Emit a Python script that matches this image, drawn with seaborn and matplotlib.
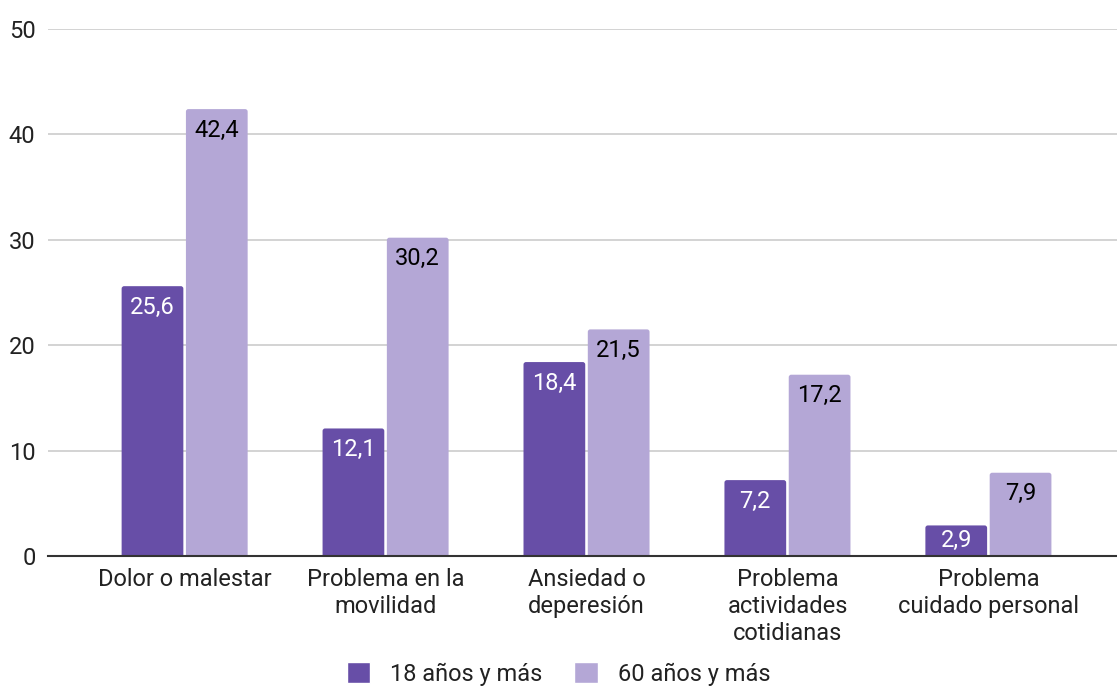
import matplotlib
matplotlib.use("Agg")
import matplotlib.pyplot as plt
from matplotlib.patches import FancyBboxPatch
import seaborn as sns
import pandas as pd

categories = [
    "Dolor o malestar",
    "Problema en la\nmovilidad",
    "Ansiedad o\ndeperesión",
    "Problema\nactividades\ncotidianas",
    "Problema\ncuidado personal",
]
series_names = ["18 años y más", "60 años y más"]
values_18 = [25.6, 12.1, 18.4, 7.2, 2.9]
values_60 = [42.4, 30.2, 21.5, 17.2, 7.9]
y_ticks = [0, 10, 20, 30, 40, 50]

colors = ["#674ea7", "#b4a7d6"]
label_colors = ["white", "black"]
FS = 17

df = pd.DataFrame({
    "categoria": categories * 2,
    "grupo": [series_names[0]] * len(categories) + [series_names[1]] * len(categories),
    "valor": values_18 + values_60,
})

sns.set_theme(style="white")
plt.rcParams["font.family"] = ["Roboto", "DejaVu Sans"]

W, H = 1117, 686
fig = plt.figure(figsize=(W / 100, H / 100), dpi=100)
ax = fig.add_axes([48 / W, 1 - 556 / H, 1 - 48 / W, (556 - 29) / H])

sns.barplot(
    data=df, x="categoria", y="valor", hue="grupo",
    palette=colors, width=0.64, gap=0.04, saturation=1,
    ax=ax, legend=True,
)

ax.set_ylim(0, 50)
ax.set_xlim(-0.68, 4.64)
ax.set_yticks(y_ticks)
ax.set_yticklabels([str(t) for t in y_ticks], fontsize=FS, color="#222222")
ax.tick_params(axis="y", length=0, pad=9)
ax.tick_params(axis="x", length=0, pad=9, labelsize=FS, labelcolor="#222222")
ax.set_xlabel("")
ax.set_ylabel("")
ax.yaxis.grid(True, color="#cccccc", linewidth=1.2)
ax.set_axisbelow(True)
for side in ["top", "right", "left"]:
    ax.spines[side].set_visible(False)
ax.spines["bottom"].set_color("#333333")
ax.spines["bottom"].set_linewidth(1.5)

# Pixel scales of the axes, used for rounded bar tops and label offsets.
ax_w_px = W - 48
ax_h_px = 556 - 29
px_x = ax_w_px / (ax.get_xlim()[1] - ax.get_xlim()[0])
px_y = ax_h_px / (ax.get_ylim()[1] - ax.get_ylim()[0])
radius = 2.5 / px_x
aspect = px_x / px_y

# Swap the plain rectangles for ones with slightly rounded top corners;
# the bottom extends below the baseline, where it is clipped away.
for container in ax.containers:
    for rect in container.patches:
        rect.set_visible(False)
        below = 4 / px_y
        ax.add_patch(FancyBboxPatch(
            (rect.get_x(), rect.get_y() - below), rect.get_width(),
            rect.get_height() + below,
            boxstyle=f"round,pad=0,rounding_size={radius}",
            mutation_aspect=aspect, facecolor=rect.get_facecolor(),
            edgecolor="none", linewidth=0, zorder=rect.get_zorder(),
            clip_on=True,
        ))

# Value labels sit just inside the top of each bar; short bars get them centred.
for container, tcolor in zip(ax.containers, label_colors):
    for rect, val in zip(container.patches, container.datavalues):
        h_px = val * px_y
        offset = -21 if h_px > 42 else -h_px / 2
        ax.annotate(
            f"{val:.1f}".replace(".", ","),
            xy=(rect.get_x() + rect.get_width() / 2, val),
            xytext=(0, offset * 0.72), textcoords="offset points",
            ha="center", va="center", color=tcolor, fontsize=FS,
        )

handles, labs = ax.get_legend_handles_labels()
ax.legend_.remove()
fig.legend(handles, labs, loc="center", bbox_to_anchor=(0.5, 12 / H),
           ncol=2, frameon=False, fontsize=FS, handlelength=1.0,
           handleheight=1.0, columnspacing=1.35, handletextpad=0.85,
           labelcolor="#222222")

fig.savefig("out.png", dpi=100)
